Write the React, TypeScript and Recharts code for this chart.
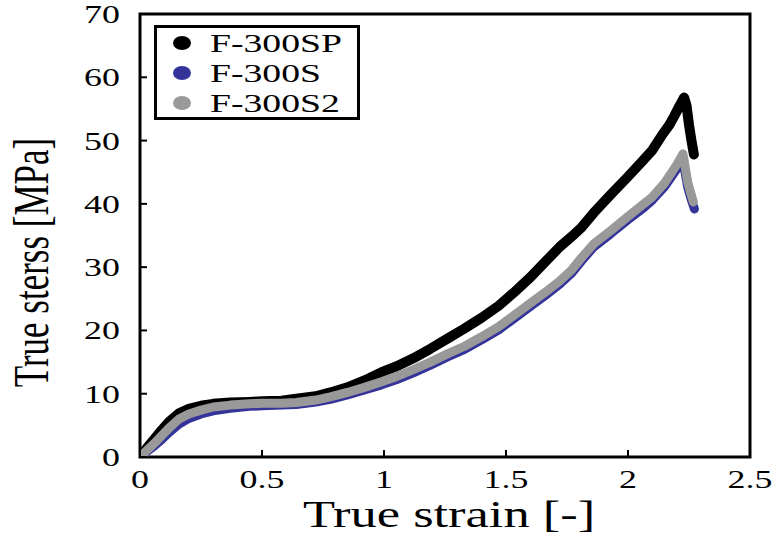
import React from 'react';
import { LineChart, Line, XAxis, YAxis, ReferenceArea, Legend } from 'recharts';

// F-300SP (black)
const spStrain = [0, 0.03, 0.06, 0.09, 0.12, 0.16, 0.2, 0.25, 0.3, 0.37, 0.45, 0.5, 0.58, 0.64, 0.72, 0.78, 0.85, 0.92, 0.99, 1.05, 1.12, 1.19, 1.26, 1.33, 1.4, 1.47, 1.53, 1.6, 1.66, 1.72, 1.78, 1.81, 1.86, 1.93, 2.0, 2.06, 2.1, 2.14, 2.17, 2.19, 2.21, 2.23, 2.24, 2.25, 2.26, 2.27];
const spStress = [0, 1.5, 2.9, 4.3, 5.6, 6.9, 7.6, 8.1, 8.4, 8.6, 8.7, 8.8, 8.9, 9.2, 9.6, 10.2, 11.0, 12.1, 13.4, 14.3, 15.6, 17.1, 18.7, 20.3, 22.0, 23.9, 25.9, 28.4, 30.8, 33.2, 35.2, 36.3, 38.6, 41.5, 44.3, 46.8, 48.5, 50.9, 52.5, 53.9, 55.4, 56.8, 55.5, 52.5, 50.0, 47.8];

// F-300S (blue)
const sStrain = [0, 0.03, 0.06, 0.09, 0.12, 0.16, 0.2, 0.25, 0.3, 0.37, 0.45, 0.5, 0.58, 0.64, 0.72, 0.78, 0.85, 0.92, 0.99, 1.05, 1.12, 1.19, 1.26, 1.33, 1.4, 1.47, 1.53, 1.6, 1.66, 1.72, 1.77, 1.81, 1.86, 1.93, 2.0, 2.065, 2.1, 2.15, 2.2, 2.225, 2.245, 2.26, 2.272];
const sStress = [0, 0.9, 1.8, 2.8, 3.9, 5.2, 6.1, 6.8, 7.3, 7.7, 8.0, 8.1, 8.2, 8.3, 8.7, 9.1, 9.8, 10.6, 11.4, 12.2, 13.3, 14.5, 15.8, 17.0, 18.5, 20.1, 21.8, 23.8, 25.5, 27.3, 29.1, 31.0, 33.2, 35.3, 37.5, 39.4, 40.6, 42.7, 45.5, 46.9, 42.6, 40.6, 39.2];

// F-300S2 (gray)
const s2Strain = [0, 0.03, 0.06, 0.09, 0.12, 0.16, 0.2, 0.25, 0.3, 0.37, 0.45, 0.5, 0.58, 0.64, 0.72, 0.78, 0.85, 0.92, 0.99, 1.05, 1.12, 1.19, 1.26, 1.33, 1.4, 1.47, 1.53, 1.6, 1.66, 1.72, 1.77, 1.81, 1.86, 1.93, 2.0, 2.065, 2.1, 2.15, 2.2, 2.225, 2.245, 2.258, 2.268];
const s2Stress = [0, 1.1, 2.2, 3.4, 4.6, 6.0, 6.8, 7.4, 7.9, 8.2, 8.4, 8.5, 8.5, 8.6, 9.0, 9.5, 10.2, 11.0, 11.9, 12.7, 13.8, 15.0, 16.3, 17.5, 19.0, 20.6, 22.3, 24.3, 26.0, 27.8, 29.6, 31.5, 33.7, 35.8, 38.0, 40.0, 41.1, 43.3, 46.2, 47.9, 43.4, 41.6, 40.3];

const xTicks = [0, 0.5, 1, 1.5, 2, 2.5];
const yTicks = [0, 10, 20, 30, 40, 50, 60, 70];

const SERIES = [
    { name: 'F-300SP', color: '#000000', strain: spStrain, stress: spStress },
    { name: 'F-300S', color: '#33339a', strain: sStrain, stress: sStress },
    { name: 'F-300S2', color: '#999999', strain: s2Strain, stress: s2Stress },
];

const FONT = '"Liberation Serif", "Times New Roman", serif';
const STRETCH = 1.38;

const toPoints = (xs: number[], ys: number[]) => xs.map((x, i) => ({ x, y: ys[i] }));

function XTick({ x, y, payload }: any) {
    return (
        <g>
            <line x1={x} y1={y} x2={x} y2={y - 7} stroke="#000" strokeWidth={2} />
            <text
                transform={'translate(' + x + ',' + (y + 31) + ') scale(' + STRETCH + ',1)'}
                textAnchor="middle"
                fontFamily={FONT}
                fontSize={26}
                fill="#000"
            >
                {payload.value}
            </text>
        </g>
    );
}

function YTick({ x, y, payload }: any) {
    return (
        <g>
            <line x1={x} y1={y} x2={x + 7} y2={y} stroke="#000" strokeWidth={2} />
            <text
                transform={'translate(' + (x - 20) + ',' + (y + 9) + ') scale(' + STRETCH + ',1)'}
                textAnchor="end"
                fontFamily={FONT}
                fontSize={26}
                fill="#000"
            >
                {payload.value}
            </text>
        </g>
    );
}

function renderLegend() {
    return (
        <svg width={206} height={95} style={{ display: 'block' }}>
            <rect x={1.5} y={1.5} width={203} height={92} fill="#fff" stroke="#000" strokeWidth={3} />
            {SERIES.map((s, i) => (
                <g key={s.name}>
                    <ellipse cx={28} cy={18 + i * 30} rx={9} ry={7} fill={s.color} />
                    <text
                        transform={'translate(56,' + (27 + i * 30) + ') scale(1.45,1)'}
                        fontFamily={FONT}
                        fontSize={26}
                        fill="#000"
                    >
                        {s.name}
                    </text>
                </g>
            ))}
        </svg>
    );
}

export default function App() {
    return (
        <div style={{ position: 'absolute', left: 0, top: 0, width: 773, height: 535, background: '#fff' }}>
            <LineChart width={773} height={535} margin={{ top: 14, right: 23, bottom: 0, left: 0 }}>
                <XAxis
                    type="number"
                    dataKey="x"
                    domain={[0, 2.5]}
                    ticks={xTicks}
                    height={78}
                    axisLine={false}
                    tickLine={false}
                    tickSize={0}
                    tickMargin={0}
                    tick={XTick}
                    interval={0}
                    allowDataOverflow
                    label={(p: any) => {
                        const vb = p.viewBox || { x: 140, y: 457, width: 610 };
                        return (
                            <text
                                transform={'translate(' + (vb.x + vb.width / 2 + 4) + ',' + (vb.y + 70) + ') scale(1.38,1)'}
                                textAnchor="middle"
                                fontFamily={FONT}
                                fontSize={38}
                                fill="#000"
                            >
                                True strain [-]
                            </text>
                        );
                    }}
                />
                <YAxis
                    type="number"
                    dataKey="y"
                    domain={[0, 70]}
                    ticks={yTicks}
                    width={140}
                    axisLine={false}
                    tickLine={false}
                    tickSize={0}
                    tickMargin={0}
                    tick={YTick}
                    interval={0}
                    allowDataOverflow
                    label={(p: any) => {
                        const vb = p.viewBox || { x: 0, y: 14, height: 443 };
                        return (
                            <text
                                transform={'translate(48,' + (vb.y + vb.height / 2 + 27) + ') scale(1.45,1) rotate(-90)'}
                                textAnchor="middle"
                                fontFamily={FONT}
                                fontSize={35}
                                fill="#000"
                            >
                                True sterss [MPa]
                            </text>
                        );
                    }}
                />
                {SERIES.map((s) => (
                    <Line
                        key={s.name}
                        name={s.name}
                        data={toPoints(s.strain, s.stress)}
                        dataKey="y"
                        type="linear"
                        stroke={s.color}
                        strokeWidth={s.name === 'F-300SP' ? 10 : 9}
                        strokeLinecap="round"
                        strokeLinejoin="round"
                        dot={false}
                        activeDot={false}
                        isAnimationActive={false}
                    />
                ))}
                <ReferenceArea
                    x1={0}
                    x2={2.5}
                    y1={0}
                    y2={70}
                    fill="none"
                    stroke="#000"
                    strokeWidth={3}
                    ifOverflow="visible"
                />
                <Legend
                    layout="horizontal"
                    verticalAlign="middle"
                    align="center"
                    content={renderLegend}
                    wrapperStyle={{ position: 'absolute', left: 154, top: 25, width: 206, height: 95 }}
                />
            </LineChart>
        </div>
    );
}
